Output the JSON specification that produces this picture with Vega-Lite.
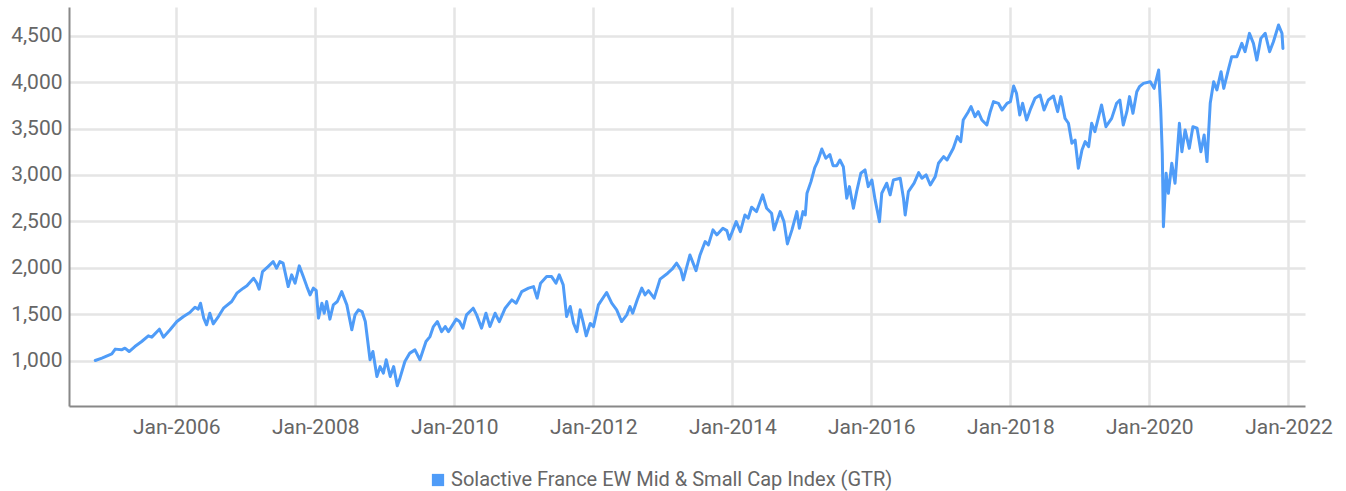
{
  "$schema": "https://vega.github.io/schema/vega-lite/v6.json",
  "width": 1236,
  "height": 399,
  "autosize": "none",
  "padding": {"left": 69, "top": 7, "right": 41, "bottom": 85},
  "background": "white",
  "config": {
    "view": {"stroke": null},
    "font": "Roboto",
    "legend": {"padding": 0}
  },
  "data": {
    "values": [
      {"d":"2004-11-01","v":1000},{"d":"2004-12-06","v":1026},{"d":"2005-01-27","v":1072},{"d":"2005-02-14","v":1123},
      {"d":"2005-03-19","v":1115},{"d":"2005-04-06","v":1133},{"d":"2005-04-28","v":1097},{"d":"2005-05-28","v":1151},
      {"d":"2005-07-03","v":1205},{"d":"2005-08-07","v":1266},{"d":"2005-08-25","v":1252},{"d":"2005-10-04","v":1338},
      {"d":"2005-10-25","v":1252},{"d":"2005-11-29","v":1331},{"d":"2006-01-04","v":1420},{"d":"2006-02-08","v":1474},
      {"d":"2006-03-13","v":1517},{"d":"2006-04-09","v":1575},{"d":"2006-04-26","v":1554},{"d":"2006-05-08","v":1618},
      {"d":"2006-05-25","v":1457},{"d":"2006-06-09","v":1385},{"d":"2006-06-26","v":1510},{"d":"2006-07-14","v":1395},
      {"d":"2006-08-10","v":1474},{"d":"2006-09-06","v":1564},{"d":"2006-10-19","v":1636},{"d":"2006-11-15","v":1726},
      {"d":"2006-12-19","v":1780},{"d":"2007-01-07","v":1805},{"d":"2007-02-11","v":1887},{"d":"2007-02-28","v":1834},
      {"d":"2007-03-12","v":1769},{"d":"2007-03-30","v":1959},{"d":"2007-04-28","v":2012},{"d":"2007-05-25","v":2066},
      {"d":"2007-06-12","v":1995},{"d":"2007-06-29","v":2066},{"d":"2007-07-16","v":2049},{"d":"2007-08-12","v":1797},
      {"d":"2007-08-30","v":1923},{"d":"2007-09-17","v":1834},{"d":"2007-10-09","v":2020},{"d":"2007-10-30","v":1905},
      {"d":"2007-11-18","v":1797},{"d":"2007-12-05","v":1708},{"d":"2007-12-22","v":1780},{"d":"2008-01-06","v":1755},
      {"d":"2008-01-18","v":1457},{"d":"2008-02-05","v":1618},{"d":"2008-02-17","v":1510},{"d":"2008-03-01","v":1636},
      {"d":"2008-03-18","v":1446},{"d":"2008-04-05","v":1600},{"d":"2008-04-26","v":1636},{"d":"2008-05-19","v":1743},
      {"d":"2008-06-15","v":1600},{"d":"2008-07-11","v":1331},{"d":"2008-07-28","v":1492},{"d":"2008-08-15","v":1546},
      {"d":"2008-09-03","v":1528},{"d":"2008-09-20","v":1420},{"d":"2008-10-15","v":1008},{"d":"2008-10-30","v":1097},
      {"d":"2008-11-20","v":828},{"d":"2008-12-07","v":935},{"d":"2008-12-24","v":864},{"d":"2009-01-08","v":1008},
      {"d":"2009-01-29","v":828},{"d":"2009-02-16","v":935},{"d":"2009-03-07","v":728},{"d":"2009-03-21","v":810},
      {"d":"2009-04-16","v":989},{"d":"2009-05-12","v":1080},{"d":"2009-06-08","v":1115},{"d":"2009-07-04","v":1008},
      {"d":"2009-08-05","v":1205},{"d":"2009-08-26","v":1258},{"d":"2009-09-13","v":1366},{"d":"2009-10-04","v":1420},
      {"d":"2009-10-26","v":1312},{"d":"2009-11-14","v":1366},{"d":"2009-12-01","v":1312},{"d":"2010-01-11","v":1446},
      {"d":"2010-01-28","v":1420},{"d":"2010-02-15","v":1349},{"d":"2010-03-06","v":1492},{"d":"2010-04-10","v":1564},
      {"d":"2010-04-28","v":1492},{"d":"2010-05-24","v":1349},{"d":"2010-06-16","v":1510},{"d":"2010-07-07","v":1366},
      {"d":"2010-08-03","v":1510},{"d":"2010-08-25","v":1420},{"d":"2010-09-25","v":1564},{"d":"2010-10-30","v":1654},
      {"d":"2010-11-22","v":1618},{"d":"2010-12-21","v":1743},{"d":"2011-01-26","v":1780},{"d":"2011-02-21","v":1797},
      {"d":"2011-03-12","v":1672},{"d":"2011-03-30","v":1834},{"d":"2011-05-01","v":1905},{"d":"2011-05-27","v":1905},
      {"d":"2011-06-19","v":1834},{"d":"2011-07-06","v":1923},{"d":"2011-07-27","v":1815},{"d":"2011-08-14","v":1474},
      {"d":"2011-09-02","v":1582},{"d":"2011-09-19","v":1403},{"d":"2011-10-07","v":1312},{"d":"2011-10-24","v":1546},
      {"d":"2011-11-10","v":1403},{"d":"2011-11-25","v":1266},{"d":"2011-12-16","v":1400},{"d":"2012-01-02","v":1366},
      {"d":"2012-01-28","v":1600},{"d":"2012-03-11","v":1733},{"d":"2012-04-07","v":1618},{"d":"2012-05-03","v":1546},
      {"d":"2012-05-29","v":1420},{"d":"2012-06-25","v":1492},{"d":"2012-07-12","v":1582},{"d":"2012-07-26","v":1510},
      {"d":"2012-08-20","v":1661},{"d":"2012-09-12","v":1780},{"d":"2012-09-29","v":1708},{"d":"2012-10-17","v":1754},
      {"d":"2012-11-16","v":1672},{"d":"2012-12-17","v":1877},{"d":"2013-01-26","v":1941},{"d":"2013-02-18","v":1984},
      {"d":"2013-03-14","v":2049},{"d":"2013-04-05","v":1977},{"d":"2013-04-18","v":1869},{"d":"2013-05-23","v":2138},
      {"d":"2013-06-24","v":1969},{"d":"2013-07-15","v":2138},{"d":"2013-08-11","v":2282},{"d":"2013-08-28","v":2246},
      {"d":"2013-09-21","v":2408},{"d":"2013-10-11","v":2354},{"d":"2013-11-12","v":2426},{"d":"2013-12-03","v":2400},
      {"d":"2013-12-16","v":2307},{"d":"2014-01-21","v":2497},{"d":"2014-02-12","v":2389},{"d":"2014-03-08","v":2569},
      {"d":"2014-03-25","v":2534},{"d":"2014-04-12","v":2652},{"d":"2014-05-08","v":2605},{"d":"2014-06-09","v":2785},
      {"d":"2014-06-30","v":2641},{"d":"2014-07-26","v":2587},{"d":"2014-08-08","v":2408},{"d":"2014-09-09","v":2605},
      {"d":"2014-09-29","v":2497},{"d":"2014-10-17","v":2257},{"d":"2014-11-10","v":2408},{"d":"2014-12-06","v":2605},
      {"d":"2014-12-19","v":2426},{"d":"2015-01-07","v":2605},{"d":"2015-01-19","v":2569},{"d":"2015-01-28","v":2803},
      {"d":"2015-02-18","v":2928},{"d":"2015-03-10","v":3080},{"d":"2015-03-26","v":3150},{"d":"2015-04-16","v":3280},
      {"d":"2015-05-07","v":3180},{"d":"2015-05-28","v":3220},{"d":"2015-06-14","v":3100},{"d":"2015-07-03","v":3100},
      {"d":"2015-07-20","v":3161},{"d":"2015-08-07","v":3089},{"d":"2015-08-25","v":2749},{"d":"2015-09-08","v":2874},
      {"d":"2015-09-29","v":2641},{"d":"2015-10-16","v":2820},{"d":"2015-11-07","v":3018},{"d":"2015-11-29","v":3054},
      {"d":"2015-12-16","v":2874},{"d":"2016-01-04","v":2946},{"d":"2016-01-21","v":2731},{"d":"2016-02-13","v":2497},
      {"d":"2016-02-25","v":2803},{"d":"2016-03-22","v":2911},{"d":"2016-04-09","v":2785},{"d":"2016-04-26","v":2946},
      {"d":"2016-06-01","v":2964},{"d":"2016-06-18","v":2749},{"d":"2016-06-27","v":2569},{"d":"2016-07-14","v":2820},
      {"d":"2016-08-13","v":2911},{"d":"2016-09-06","v":3025},{"d":"2016-09-23","v":2964},{"d":"2016-10-15","v":3000},
      {"d":"2016-11-06","v":2892},{"d":"2016-12-02","v":2982},{"d":"2016-12-19","v":3126},{"d":"2017-01-15","v":3197},
      {"d":"2017-02-02","v":3161},{"d":"2017-03-07","v":3287},{"d":"2017-03-28","v":3413},{"d":"2017-04-15","v":3359},
      {"d":"2017-04-28","v":3592},{"d":"2017-05-25","v":3682},{"d":"2017-06-08","v":3736},{"d":"2017-06-29","v":3628},
      {"d":"2017-07-16","v":3682},{"d":"2017-08-04","v":3592},{"d":"2017-08-30","v":3538},{"d":"2017-09-17","v":3682},
      {"d":"2017-10-04","v":3790},{"d":"2017-10-30","v":3772},{"d":"2017-11-18","v":3700},{"d":"2017-12-14","v":3772},
      {"d":"2018-01-01","v":3790},{"d":"2018-01-18","v":3959},{"d":"2018-02-02","v":3880},{"d":"2018-02-19","v":3646},
      {"d":"2018-03-06","v":3772},{"d":"2018-03-27","v":3592},{"d":"2018-04-18","v":3718},{"d":"2018-05-10","v":3826},
      {"d":"2018-06-06","v":3862},{"d":"2018-06-27","v":3700},{"d":"2018-07-19","v":3808},{"d":"2018-08-15","v":3851},
      {"d":"2018-09-06","v":3682},{"d":"2018-09-23","v":3844},{"d":"2018-10-15","v":3610},{"d":"2018-11-02","v":3557},
      {"d":"2018-11-20","v":3341},{"d":"2018-12-07","v":3377},{"d":"2018-12-24","v":3072},{"d":"2019-01-12","v":3269},
      {"d":"2019-01-29","v":3359},{"d":"2019-02-16","v":3305},{"d":"2019-03-04","v":3557},{"d":"2019-03-21","v":3467},
      {"d":"2019-04-25","v":3754},{"d":"2019-05-18","v":3520},{"d":"2019-06-17","v":3610},{"d":"2019-07-13","v":3772},
      {"d":"2019-07-30","v":3808},{"d":"2019-08-17","v":3538},{"d":"2019-09-05","v":3682},{"d":"2019-09-19","v":3844},
      {"d":"2019-10-07","v":3664},{"d":"2019-10-27","v":3897},{"d":"2019-11-10","v":3951},{"d":"2019-12-01","v":3987},
      {"d":"2020-01-06","v":4005},{"d":"2020-01-26","v":3933},{"d":"2020-02-19","v":4131},{"d":"2020-03-01","v":3700},
      {"d":"2020-03-09","v":3233},{"d":"2020-03-15","v":2443},{"d":"2020-03-29","v":3018},{"d":"2020-04-10","v":2803},
      {"d":"2020-04-28","v":3126},{"d":"2020-05-15","v":2911},{"d":"2020-06-07","v":3557},{"d":"2020-06-20","v":3251},
      {"d":"2020-07-07","v":3485},{"d":"2020-07-29","v":3287},{"d":"2020-08-17","v":3520},{"d":"2020-09-08","v":3503},
      {"d":"2020-09-28","v":3251},{"d":"2020-10-15","v":3431},{"d":"2020-10-30","v":3144},{"d":"2020-11-16","v":3772},
      {"d":"2020-12-04","v":4005},{"d":"2020-12-21","v":3916},{"d":"2021-01-12","v":4113},{"d":"2021-01-26","v":3933},
      {"d":"2021-02-21","v":4149},{"d":"2021-03-09","v":4274},{"d":"2021-04-05","v":4274},{"d":"2021-05-01","v":4418},
      {"d":"2021-05-18","v":4328},{"d":"2021-06-10","v":4526},{"d":"2021-07-01","v":4418},{"d":"2021-07-19","v":4238},
      {"d":"2021-08-09","v":4472},{"d":"2021-09-01","v":4526},{"d":"2021-09-24","v":4328},{"d":"2021-10-14","v":4436},
      {"d":"2021-11-10","v":4616},{"d":"2021-11-28","v":4526},{"d":"2021-12-03","v":4364}
    ]
  },
  "mark": {"type": "line", "strokeWidth": 3, "strokeJoin": "round", "strokeCap": "round"},
  "encoding": {
    "x": {
      "field": "d", "type": "temporal", "title": null,
      "scale": {"domain": ["2004-06-16", "2022-03-29"], "nice": false},
      "axis": {
        "format": "%b-%Y",
        "tickCount": {"interval": "year", "step": 2},
        "grid": true, "gridColor": "#e5e5e5", "gridWidth": 2.5,
        "ticks": false,
        "domainColor": "#888888", "domainWidth": 2,
        "labelFont": "Roboto", "labelFontSize": 21, "labelFontWeight": 400, "labelColor": "#666666",
        "labelPadding": 10, "labelFlush": false
      }
    },
    "y": {
      "field": "v", "type": "quantitative", "title": null,
      "scale": {"domain": [510, 4810], "nice": false, "zero": false},
      "axis": {
        "values": [1000, 1500, 2000, 2500, 3000, 3500, 4000, 4500],
        "format": ",.0f",
        "grid": true, "gridColor": "#e5e5e5", "gridWidth": 2.5,
        "ticks": false,
        "domainColor": "#888888", "domainWidth": 2,
        "labelFont": "Roboto", "labelFontSize": 21, "labelFontWeight": 400, "labelColor": "#666666",
        "labelPadding": 7
      }
    },
    "color": {
      "datum": "Solactive France EW Mid & Small Cap Index (GTR)",
      "scale": {"range": ["#4f9cf8"]},
      "legend": {
        "title": null, "orient": "none", "legendX": 359, "legendY": 463,
        "symbolType": "square", "symbolSize": 150, "symbolStrokeWidth": 0,
        "symbolFillColor": "#4f9cf8", "symbolOpacity": 1,
        "labelFont": "Roboto", "labelFontSize": 20, "labelFontWeight": 400, "labelColor": "#666666",
        "labelOffset": 3, "labelLimit": 800
      }
    }
  }
}
